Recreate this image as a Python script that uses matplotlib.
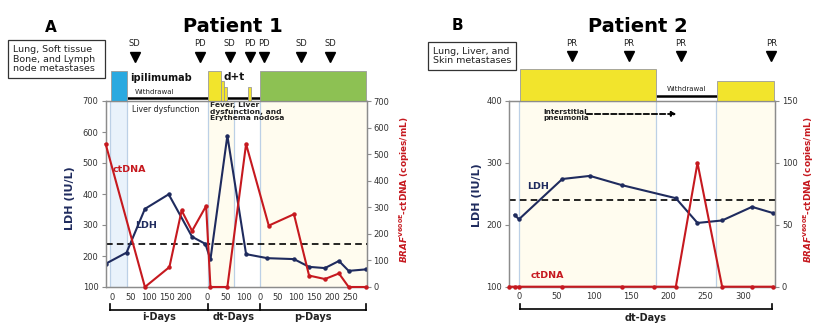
import matplotlib
matplotlib.use("Agg")
import matplotlib.pyplot as plt
from matplotlib.patches import Rectangle

plt.rcParams["font.family"] = ["DejaVu Sans"]
plt.rcParams["mathtext.fontset"] = "dejavusans"

NAVY = "#1f2b5e"
RED = "#c6191f"
BLUE = "#2aa9e0"
YELLOW = "#f2e42c"
GREEN = "#8dc153"
CREAM = "#fffcef"
PALEBLUE = "#e9f2fb"
VLINE = "#bcd0e6"
SPINE = "#8c8c8c"
TXT = "#333333"

# ---------------- Patient 1 ----------------
# day axis is split in three phases (ipilimumab / dabrafenib+trametinib / pembrolizumab)
phase_start_a = {"i": 0, "dt": 264, "p": 410}
xlim_a = (-19.5, 705.5)

ldh_a_phase = ["i"] * 6 + ["dt"] * 3 + ["p"] * 7
ldh_a_day = [-19, 39, 90, 156, 221, 258, 8, 55, 107, 20, 94, 136, 180, 219, 246, 295]
ldh_a = [175, 211, 352, 399, 262, 239, 189, 588, 206, 193, 190, 165, 161, 184, 152, 157]

ctdna_a_phase = ["i"] * 6 + ["dt"] * 3 + ["p"] * 7
ctdna_a_day = [-19, 90, 158, 192, 221, 260, 8, 55, 107, 24, 94, 136, 180, 219, 246, 295]
ctdna_a = [538, 0, 75, 288, 211, 305, 0, 0, 538, 231, 274, 43, 30, 51, 0, 0]

resp_a_label = ["SD", "PD", "SD", "PD", "PD", "SD", "SD"]
resp_a_phase = ["i", "i", "dt", "dt", "p", "p", "p"]
resp_a_day = [62, 244, 61, 117, 10, 114, 194]

xtick_a_phase = ["i"] * 5 + ["dt"] * 3 + ["p"] * 6
xtick_a_day = [0, 50, 100, 150, 200, 0, 50, 100, 0, 50, 100, 150, 200, 250]

# treatment blocks: (phase, start day, end day, relative height, colour)
treat_a = [
    ("i", -4, 39, 1.0, BLUE),
    ("dt", 0, 36, 1.0, YELLOW),
    ("dt", 36, 45, 0.66, YELLOW),
    ("dt", 45, 55, 0.45, YELLOW),
    ("dt", 112, 121, 0.45, YELLOW),
    ("p", 1, 295, 1.0, GREEN),
]
withdrawal_a = [("i", 39, "dt", 0), ("dt", 55, "p", 0)]
phase_lines_a = [("i", -7.5), ("i", 39), ("dt", 0), ("dt", 73.5), ("p", 1)]
metastases_a = "Lung, Soft tissue\nBone, and Lymph\nnode metastases"

# ---------------- Patient 2 ----------------
xlim_b = (-13.4, 342.8)
ldh_b_day = [-6, 0, 58, 95, 138, 210, 239, 272, 312, 340]
ldh_b = [216, 209, 274, 279, 264, 243, 203, 207, 229, 219]
ctdna_b_day = [-13, -6, 0, 58, 138, 181, 210, 239, 272, 312, 340]
ctdna_b = [0, 0, 0, 0, 0, 0, 0, 100, 0, 0, 0]
resp_b_label = ["PR", "PR", "PR", "PR"]
resp_b_day = [71, 147, 217, 338]
xtick_b = [0, 50, 100, 150, 200, 250, 300]
treat_b = [(1, 183, 1.0, YELLOW), (265, 341, 0.62, YELLOW)]
withdrawal_b = (183, 265)
phase_lines_b = [0.4, 183, 263.4]
metastases_b = "Lung, Liver, and\nSkin metastases"

LDH_REF = 240

W, H = 821, 328
fig = plt.figure(figsize=(W / 100, H / 100), dpi=100)


def px_axes(l, t, r, b):
    return fig.add_axes([l / W, 1 - b / H, (r - l) / W, (b - t) / H])


def fx(x):
    return x / W


def fy(y):
    return 1 - y / H


def gx_a(phase, day):
    return phase_start_a[phase] + day


def style_axes(ax, ax2):
    for a in (ax, ax2):
        for s in a.spines.values():
            s.set_color(SPINE)
            s.set_linewidth(0.9)
        a.tick_params(axis="y", direction="out", length=3, width=0.8, color=SPINE,
                      labelsize=6, labelcolor=TXT, pad=2)
    ax.tick_params(axis="x", length=0, labelsize=6, labelcolor=TXT, pad=4)


def meta_box(x0, y0, x1, y1, text):
    fig.add_artist(Rectangle((fx(x0), fy(y1)), fx(x1) - fx(x0), fy(y0) - fy(y1),
                             transform=fig.transFigure, facecolor="white",
                             edgecolor="#333333", lw=0.9))
    fig.text(fx(x0 + 5), fy((y0 + y1) / 2), text, fontsize=6.8, color="#222222",
             ha="left", va="center", linespacing=1.1)


BRAF_LABEL = r"$\mathbfit{BRAF}^{\mathbf{V600E}}$-ctDNA (copies/mL)"

# ================= Panel A =================
ax = px_axes(105.5, 101, 366.5, 287)
ax2 = ax.twinx()
ax.set_xlim(*xlim_a)
ax.set_ylim(100, 700)
ax2.set_ylim(0, 700)
ax.set_yticks(range(100, 701, 100))
ax2.set_yticks(range(0, 701, 100))
style_axes(ax, ax2)

# phase shading and boundaries
ax.axvspan(gx_a("i", -7.5), gx_a("i", 39), color=PALEBLUE, zorder=0, lw=0)
ax.axvspan(gx_a("dt", 0), gx_a("dt", 73.5), color=CREAM, zorder=0, lw=0)
ax.axvspan(gx_a("p", 1), xlim_a[1], color=CREAM, zorder=0, lw=0)
for ph, d in phase_lines_a:
    ax.axvline(gx_a(ph, d), color=VLINE, lw=0.9, zorder=0.5)

ax.axhline(LDH_REF, color="black", lw=1.2, ls=(0, (4, 2.5)), zorder=3)

xa_ldh = [gx_a(p, d) for p, d in zip(ldh_a_phase, ldh_a_day)]
xa_ct = [gx_a(p, d) for p, d in zip(ctdna_a_phase, ctdna_a_day)]
ax.plot(xa_ldh, ldh_a, color=NAVY, lw=1.5, marker="o", ms=2.2, zorder=4)
ax2.plot(xa_ct, ctdna_a, color=RED, lw=1.5, marker="o", ms=2.2, zorder=4, clip_on=False)

ax.set_xticks([gx_a(p, d) for p, d in zip(xtick_a_phase, xtick_a_day)])
ax.set_xticklabels([str(d) for d in xtick_a_day])

tr = ax.get_xaxis_transform()
# treatment blocks above the plot
for ph, s, e, h, c in treat_a:
    ax.add_patch(Rectangle((gx_a(ph, s), 1.0), e - s, 0.163 * h, transform=tr,
                           facecolor=c, edgecolor="#9a9a9a", lw=0.6, clip_on=False, zorder=5))
for p0, d0, p1, d1 in withdrawal_a:
    ax.plot([gx_a(p0, d0), gx_a(p1, d1)], [1.018, 1.018], transform=tr, color="black",
            lw=1.8, clip_on=False, solid_capstyle="butt")
ax.text(gx_a("i", 118), 1.048, "Withdrawal", transform=tr, fontsize=5, ha="center",
        va="center", color="#222222")
ax.text(gx_a("i", 49), 1.123, "ipilimumab", transform=tr, fontsize=7, ha="left",
        va="center", fontweight="bold", color="#111111")
ax.text(gx_a("dt", 73), 1.127, "d+t", transform=tr, fontsize=7.5, ha="center",
        va="center", fontweight="bold", color="#111111")
ax.text(gx_a("p", 143), 1.118, "pembrolizumab", transform=tr, fontsize=6.8, ha="center",
        va="center", fontweight="bold", color="#111111")

# response evaluations
for lab, ph, d in zip(resp_a_label, resp_a_phase, resp_a_day):
    ax.plot(gx_a(ph, d), 1.238, marker="v", ms=7, color="black", transform=tr, clip_on=False)
    ax.text(gx_a(ph, d), 1.31, lab, transform=tr, fontsize=6, ha="center", va="center",
            color="#222222")

# adverse events
ax.text(gx_a("i", 53), 0.952, "Liver dysfunction", transform=tr, fontsize=5.6,
        ha="left", va="center", color="#222222")
ax.text(gx_a("dt", 7), 0.992, "Fever, Liver\ndysfunction, and\nErythema nodosa",
        transform=tr, fontsize=5.4, ha="left", va="top", fontweight="bold",
        color="#222222", linespacing=1.05)

ax.text(0.092, 0.634, "ctDNA", transform=ax.transAxes, color=RED, fontsize=6.8,
        fontweight="bold", ha="center", va="center")
ax.text(0.157, 0.333, "LDH", transform=ax.transAxes, color=NAVY, fontsize=6.8,
        fontweight="bold", ha="center", va="center")

# phase brackets under the axis
by, bt = -0.124, -0.091
ends_a = [gx_a("i", -7), gx_a("dt", 0), gx_a("p", 0), gx_a("p", 295)]
ax.plot([ends_a[0], ends_a[-1]], [by, by], transform=tr, color="black", lw=1.2, clip_on=False)
for xe in ends_a:
    ax.plot([xe, xe], [by, bt], transform=tr, color="black", lw=1.2, clip_on=False)
for lab, a, b in zip(["i-Days", "dt-Days", "p-Days"], ends_a[:-1], ends_a[1:]):
    ax.text((a + b) / 2, -0.163, lab, transform=tr, fontsize=7, fontweight="bold",
            ha="center", va="center", color="#222222")

fig.text(fx(70), fy(198), "LDH (IU/L)", rotation=90, color=NAVY, fontsize=8,
         fontweight="bold", ha="center", va="center")
fig.text(fx(405), fy(190), BRAF_LABEL, rotation=90, color=RED, fontsize=6.4,
         fontweight="bold", ha="center", va="center")

fig.text(fx(51), fy(27), "A", fontsize=11, fontweight="bold", ha="center", va="center")
fig.text(fx(233), fy(27), "Patient 1", fontsize=14, fontweight="bold", ha="center",
         va="center")
meta_box(8.3, 40, 105.3, 78.3, metastases_a)

# ================= Panel B =================
bx = px_axes(509, 101, 775, 286.7)
bx2 = bx.twinx()
bx.set_xlim(*xlim_b)
bx.set_ylim(100, 400)
bx2.set_ylim(0, 150)
bx.set_yticks([100, 200, 300, 400])
bx2.set_yticks([0, 50, 100, 150])
style_axes(bx, bx2)

bx.axvspan(phase_lines_b[0], phase_lines_b[1], color=CREAM, zorder=0, lw=0)
bx.axvspan(phase_lines_b[2], xlim_b[1], color=CREAM, zorder=0, lw=0)
for d in phase_lines_b:
    bx.axvline(d, color=VLINE, lw=0.9, zorder=0.5)

bx.axhline(LDH_REF, color="black", lw=1.2, ls=(0, (4, 2.5)), zorder=3)
bx.plot(ldh_b_day, ldh_b, color=NAVY, lw=1.5, marker="o", ms=2.2, zorder=4)
bx2.plot(ctdna_b_day, ctdna_b, color=RED, lw=1.5, marker="o", ms=2.2, zorder=4,
         clip_on=False)
bx.set_xticks(xtick_b)
bx.set_xticklabels([str(d) for d in xtick_b])

trb = bx.get_xaxis_transform()
for s, e, h, c in treat_b:
    bx.add_patch(Rectangle((s, 1.0), e - s, 0.172 * h, transform=trb, facecolor=c,
                           edgecolor="#9a9a9a", lw=0.6, clip_on=False, zorder=5))
bx.plot(list(withdrawal_b), [1.028, 1.028], transform=trb, color="black", lw=1.8,
        clip_on=False, solid_capstyle="butt")
bx.text(sum(withdrawal_b) / 2, 1.062, "Withdrawal", transform=trb, fontsize=5,
        ha="center", va="center", color="#222222")
bx.text(88, 1.114, "d+t", transform=trb, fontsize=7.5, ha="center", va="center",
        fontweight="bold", color="#111111")
for lab, d in zip(resp_b_label, resp_b_day):
    bx.plot(d, 1.242, marker="v", ms=7, color="black", transform=trb, clip_on=False)
    bx.text(d, 1.311, lab, transform=trb, fontsize=6, ha="center", va="center",
            color="#222222")

bx.text(0.128, 0.927, "Interstitial\npneumonia", transform=bx.transAxes, fontsize=5.2,
        fontweight="bold", ha="left", va="center", color="#222222", linespacing=1.0)
bx.annotate("", xy=(211, 0.93), xytext=(90.7, 0.93), xycoords=trb, textcoords=trb,
            arrowprops=dict(arrowstyle="-|>", ls=(0, (3, 1.5)), lw=1.3, color="black",
                            mutation_scale=7, shrinkA=0, shrinkB=0))

bx.text(0.109, 0.537, "LDH", transform=bx.transAxes, color=NAVY, fontsize=6.8,
        fontweight="bold", ha="center", va="center")
bx.text(0.143, 0.059, "ctDNA", transform=bx.transAxes, color=RED, fontsize=6.8,
        fontweight="bold", ha="center", va="center")

byb, btb = -0.122, -0.091
ends_b = [1.3, 338.4]
bx.plot(ends_b, [byb, byb], transform=trb, color="black", lw=1.2, clip_on=False)
for xe in ends_b:
    bx.plot([xe, xe], [byb, btb], transform=trb, color="black", lw=1.2, clip_on=False)
bx.text(sum(ends_b) / 2, -0.167, "dt-Days", transform=trb, fontsize=7, fontweight="bold",
        ha="center", va="center", color="#222222")

fig.text(fx(477), fy(195), "LDH (IU/L)", rotation=90, color=NAVY, fontsize=8,
         fontweight="bold", ha="center", va="center")
fig.text(fx(809), fy(190), BRAF_LABEL, rotation=90, color=RED, fontsize=6.4,
         fontweight="bold", ha="center", va="center")

fig.text(fx(457), fy(25), "B", fontsize=11, fontweight="bold", ha="center", va="center")
fig.text(fx(638), fy(27), "Patient 2", fontsize=14, fontweight="bold", ha="center",
         va="center")
meta_box(428.3, 41.7, 516, 70, metastases_b)

fig.savefig("out.png", dpi=100)
